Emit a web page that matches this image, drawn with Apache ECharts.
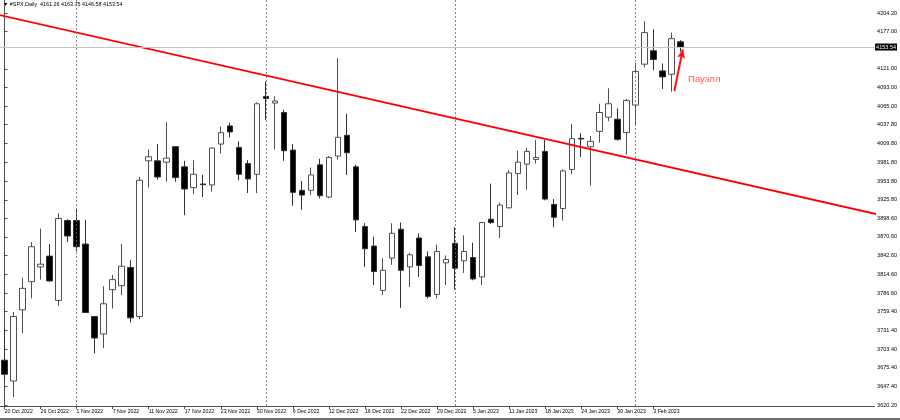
<!DOCTYPE html>
<html><head><meta charset="utf-8">
<script src="https://cdn.jsdelivr.net/npm/echarts@6/dist/echarts.min.js"></script>
<style>html,body{margin:0;padding:0;background:#fff;overflow:hidden}#c{width:900px;height:420px;position:absolute;left:0;top:0}#tab{position:absolute;left:0;top:418px;width:900px;height:2px;background:#6e6e6e}</style>
</head><body><div id="c"></div><div id="tab"></div>
<script>
const symbolName = '#SPX,Daily';
const dates = ['20 Oct 2022','21 Oct 2022','24 Oct 2022','25 Oct 2022','26 Oct 2022','27 Oct 2022','28 Oct 2022','31 Oct 2022',
'1 Nov 2022','2 Nov 2022','3 Nov 2022','4 Nov 2022','7 Nov 2022','8 Nov 2022','9 Nov 2022','10 Nov 2022','11 Nov 2022','14 Nov 2022','15 Nov 2022','16 Nov 2022','17 Nov 2022','18 Nov 2022','21 Nov 2022','22 Nov 2022','23 Nov 2022','25 Nov 2022','28 Nov 2022','29 Nov 2022','30 Nov 2022',
'1 Dec 2022','2 Dec 2022','5 Dec 2022','6 Dec 2022','7 Dec 2022','8 Dec 2022','9 Dec 2022','12 Dec 2022','13 Dec 2022','14 Dec 2022','15 Dec 2022','16 Dec 2022','19 Dec 2022','20 Dec 2022','21 Dec 2022','22 Dec 2022','23 Dec 2022','27 Dec 2022','28 Dec 2022','29 Dec 2022','30 Dec 2022',
'3 Jan 2023','4 Jan 2023','5 Jan 2023','6 Jan 2023','9 Jan 2023','10 Jan 2023','11 Jan 2023','12 Jan 2023','13 Jan 2023','17 Jan 2023','18 Jan 2023','19 Jan 2023','20 Jan 2023','23 Jan 2023','24 Jan 2023','25 Jan 2023','26 Jan 2023','27 Jan 2023','30 Jan 2023','31 Jan 2023',
'1 Feb 2023','2 Feb 2023','3 Feb 2023','6 Feb 2023','7 Feb 2023','8 Feb 2023'];
const opens  = [3687,3656,3762,3804,3826,3842,3776,3895, 3895,3860,3752,3726,3792,3798,3825,3752,3984,3984,3982,4005,3975,3944,3949.5,3948,4009,4036,4004,3980,3964,
4080,4070,4056,4000,3940,3940,3978,3930,3991,4022,3975,3886,3857,3791,3839,3882,3826,3869,3841,3785,3832,
3861,3835,3840,3811,3897,3886,3914,3965,3979,3986,3998,3919,3913,3971,4017.5,4005,4028,4049,4046,4026,
4067,4128,4148,4118,4113,4161.26];
const closes = [3666,3752,3794,3856,3830,3805,3898,3872, 3856,3758,3720,3771,3807,3827,3750,3955,3990,3960,3988,3959,3942,3964,3948.5,4003,4026,4027,3964,3957,4069,
4077,4073,3999,3937,3933,3963,3932,3989,4019,3996,3896,3853,3819,3821,3876,3821,3844,3828,3782,3849,3837,
3824,3849,3808,3892,3892,3918,3966,3982,3998,3989,3927,3900,3969,4017,4016.5,4013,4056,4069,4016,4074,
4117,4175,4135,4109,4166,4153.54];
const lows   = [3656,3632,3727,3779,3807,3804,3768,3863, 3849,3757,3697,3705,3764,3784,3743,3748,3944,3956,3953,3953,3903,3934,3930,3938,3995,4019,3955,3936,3936,
4045,4001,3984,3917,3911,3933,3928,3928,3986,3963,3878,3826,3799,3784,3829,3765,3796,3811,3779,3779,3799,
3792,3817,3806,3799,3890,3869,3913,3933,3941,3980,3925,3885,3895,3964,3990,3947,4011,4043,4014,3993,
4037,4123,4119,4091,4087,4146.58];
const highs  = [3736,3759,3810,3863,3883,3860,3906,3897, 3912,3896,3752,3797,3814,3860,3836,3960,4001,4009,4042,4006,3984,3985,3963,4004,4035,4041,4013,3985,4071,
4102,4080,4060,4009,3954,3974,3987,3991,4137,4054,3978,3891,3871,3839,3891,3892,3847,3876,3849,3859,3843,
3885,3873,3862,3893,3950,3922,3970,3999,4003,4015,4015,3927,3971,4039,4025,4021,4069,4092,4062,4076,
4130,4192,4180,4129,4175,4163.75];
const priceTicks = [4204.20,4177.00,4121.00,4093.00,4065.00,4037.80,4009.80,3981.80,3953.80,3925.80,3898.60,3870.60,3842.60,3814.60,3786.60,3759.40,3731.40,3703.40,3675.40,3647.40,3620.20];
const monthSeparators = ['1 Nov 2022','1 Dec 2022','3 Jan 2023','1 Feb 2023'];
const trendLine = [[-1, 4202.5], [100, 3894.8]];
const arrowFrom = [74.33, 4088.0];
const arrowTo = [75.28, 4150.1];
const noteText = 'Пауэлл';
const notePoint = [75.8, 4106];
const blankBars = 21;
const yMin = 3618.7, yMax = 4223.6;

const n = dates.length;
const categories = dates.concat(new Array(blankBars).fill(''));
const candles = dates.map((d, i) => [opens[i], closes[i], lows[i], highs[i]]);
const last = n - 1;
const showIdx = (i) => i < n && i % 4 === 0;
const FF = '"Liberation Sans", Tahoma, Arial, sans-serif';

const chart = echarts.init(document.getElementById('c'), null, {renderer: 'canvas'});
chart.setOption({
  animation: false,
  backgroundColor: '#ffffff',
  title: {
    text: '\u25BC ' + symbolName + '  ' + [opens[last], highs[last], lows[last], closes[last]].map(v => v.toFixed(2)).join(' '),
    left: 3, top: 2, padding: 0,
    textStyle: {fontSize: 5.4, fontWeight: 'normal', color: '#000', fontFamily: FF}
  },
  grid: {left: -3.5, right: 25.7, top: 0, bottom: 14, containLabel: false},
  xAxis: [{
    type: 'category', data: categories, boundaryGap: true,
    axisLine: {show: true, lineStyle: {color: '#505050', width: 1}},
    axisTick: {show: true, alignWithLabel: true, length: 3, interval: (i) => showIdx(i), lineStyle: {color: '#505050'}},
    axisLabel: {show: true, interval: (i) => showIdx(i), align: 'left', fontSize: 5.2, color: '#000', margin: 3, fontFamily: FF},
    splitLine: {show: false}
  }, {
    type: 'value', min: -0.5, max: categories.length - 0.5, show: false
  }],
  yAxis: {
    type: 'value', position: 'right', min: yMin, max: yMax, scale: true,
    axisLine: {show: true, lineStyle: {color: '#505050', width: 1}},
    axisTick: {show: true, customValues: priceTicks, length: 3, lineStyle: {color: '#505050'}},
    axisLabel: {show: true, customValues: priceTicks, formatter: (v) => Number(v).toFixed(2), fontSize: 5.5, color: '#000', margin: 3, fontFamily: FF},
    splitLine: {show: false}
  },
  series: [{
    type: 'candlestick', xAxisIndex: 0, data: candles, barWidth: 6,
    itemStyle: {color: '#ffffff', color0: '#000000', borderColor: '#505050', borderColor0: '#303030', borderWidth: 1},
    markLine: {
      silent: true, symbol: 'none', animation: false,
      data: [{
        yAxis: closes[last],
        lineStyle: {color: '#c4c4c4', type: 'solid', width: 1},
        label: {show: true, position: 'end', distance: 1, formatter: closes[last].toFixed(2), backgroundColor: '#000', color: '#fff', fontSize: 5.5, padding: [1, 1, 0, 1], fontFamily: FF}
      }].concat(monthSeparators.map(s => ({
        xAxis: s,
        lineStyle: {color: '#6a6a6a', type: [2, 2], width: 0.8},
        label: {show: false}
      })))
    }
  }, {
    type: 'line', xAxisIndex: 1, data: trendLine, symbol: 'none', silent: true,
    lineStyle: {color: '#ff0000', width: 1.8}
  }, {
    type: 'scatter', xAxisIndex: 1, data: [notePoint], symbolSize: 1, silent: true,
    itemStyle: {color: 'rgba(255,255,255,0)'},
    label: {show: true, formatter: noteText, position: 'right', distance: 0, color: '#ff2a2a', fontSize: 9.5, fontFamily: FF},
    markLine: {
      silent: true, symbol: ['none', 'arrow'], symbolSize: [6, 9], animation: false,
      lineStyle: {color: '#ff1010', width: 2, type: 'solid'},
      label: {show: false},
      data: [[{coord: arrowFrom}, {coord: arrowTo}]]
    }
  }]
});
</script></body></html>
